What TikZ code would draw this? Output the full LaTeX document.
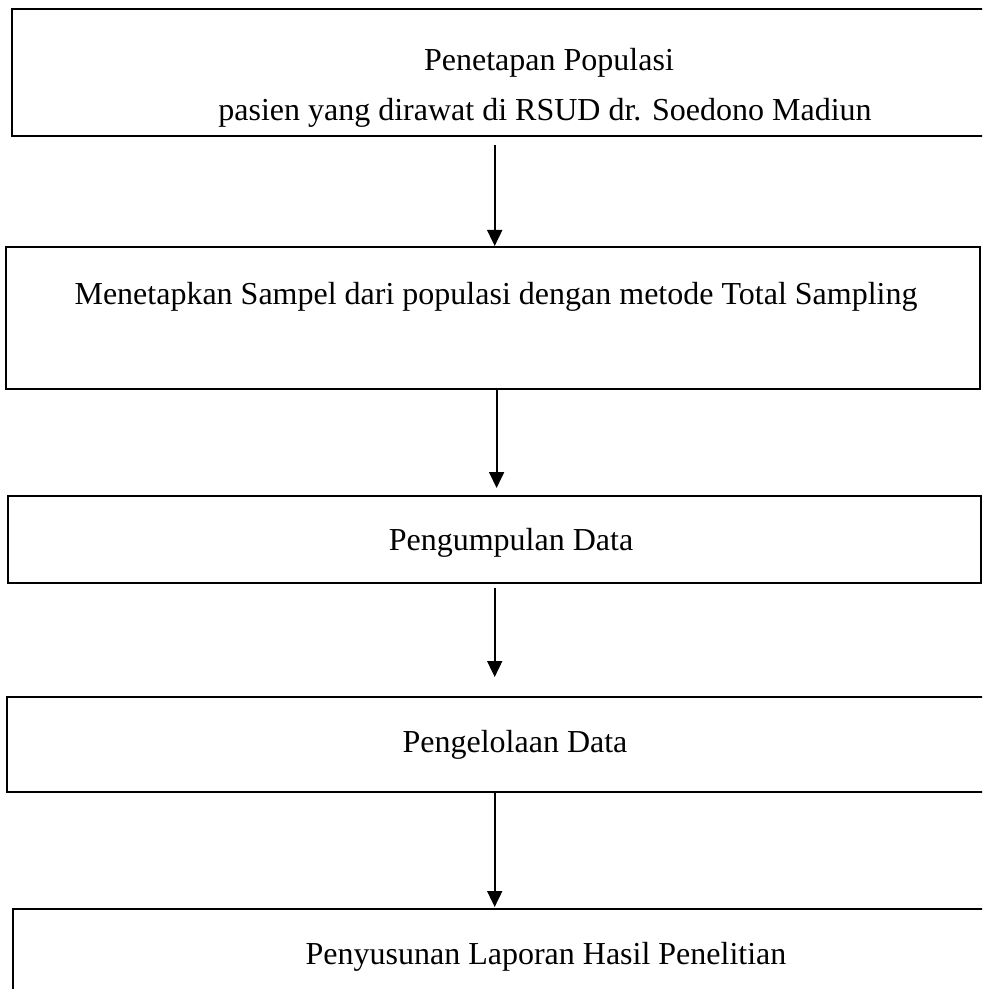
\documentclass[tikz,border=0pt]{standalone}
\usepackage{fontspec}
\setmainfont{Liberation Serif}
\usepackage{tikz}
\usetikzlibrary{positioning}
\usetikzlibrary{fit}
\usetikzlibrary{arrows.meta}

\tikzset{
  box/.style={draw, line width=1pt, inner sep=0pt},
  txt/.style={font=\fontsize{16}{19}\selectfont, inner sep=0pt},
  arr/.style={-{Triangle[width=7.5pt,length=8pt]}, line width=0.9pt}
}

\begin{document}
\begin{tikzpicture}[x=0.5pt,y=-0.5pt]
  \clip (0,0) rectangle (982,989);
  \node[box, fit={(12,9) (992,136)}] (populasi) {};
  \node[txt] (populasiA) at (549,63) {Penetapan Populasi};
  \node[txt] (populasiB) at (545,113) {pasien yang dirawat di RSUD dr. Soedono Madiun};
  \node[box, fit={(6,247) (980,389)}] (sampel) {};
  \node[txt] (sampelA) at (496,297) {Menetapkan Sampel dari populasi dengan metode Total Sampling};
  \node[box, fit={(8,496) (981,583)}] (kumpul) {};
  \node[txt] (kumpulA) at (511,543) {Pengumpulan Data};
  \node[box, fit={(7,697) (992,792)}] (olah) {};
  \node[txt] (olahA) at (515,745) {Pengelolaan Data};
  \node[box, fit={(13,909) (992,1000)}] (laporan) {};
  \node[txt] (laporanA) at (546,957) {Penyusunan Laporan Hasil Penelitian};
  \coordinate (midA) at (494.7,0);
  \coordinate (midB) at (496.6,0);
  \draw[arr] ([yshift=-4pt]populasi.south -| midA) -- (sampel.north -| midA);
  \draw[arr] ([yshift=1pt]sampel.south -| midB) -- ([yshift=3.5pt]kumpul.north -| midB);
  \draw[arr] ([yshift=-2pt]kumpul.south -| midA) -- ([yshift=9.5pt]olah.north -| midA);
  \draw[arr] ([yshift=1pt]olah.south -| midA) -- ([yshift=0.5pt]laporan.north -| midA);
\end{tikzpicture}
\end{document}
